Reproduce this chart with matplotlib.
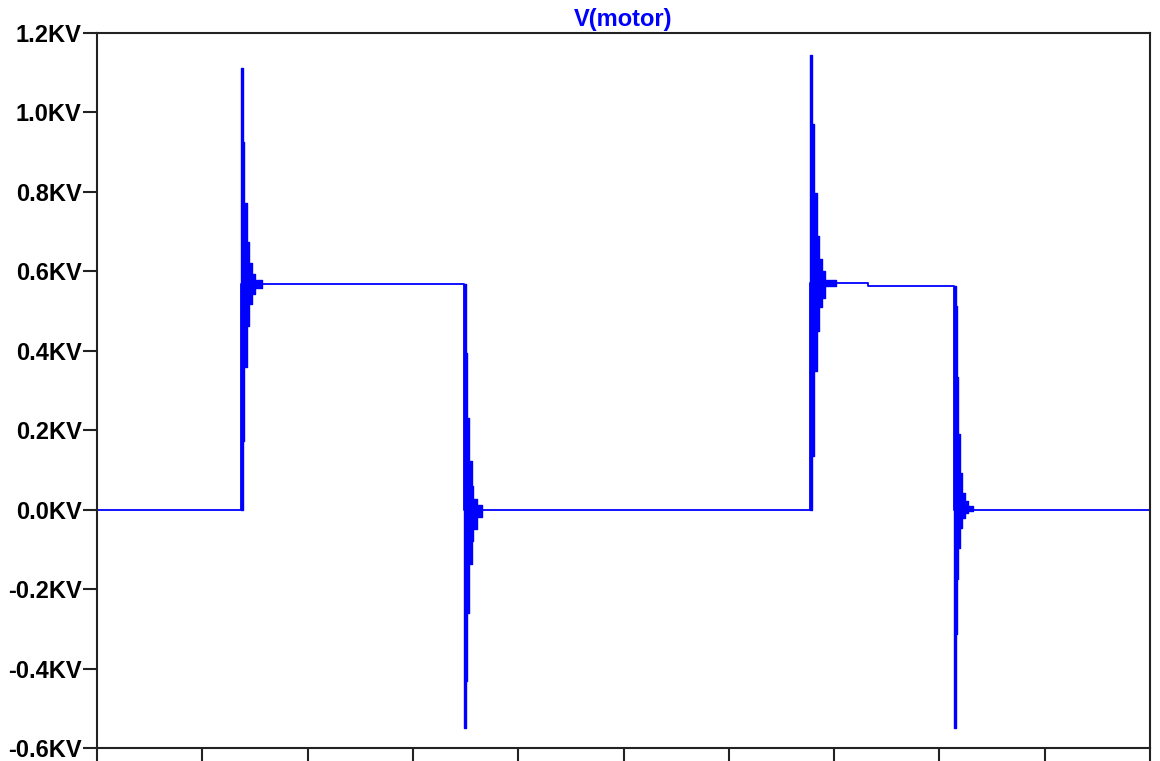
import numpy as np
import matplotlib
matplotlib.use("Agg")
import matplotlib.pyplot as plt
from matplotlib.ticker import FuncFormatter

# time in grid divisions (0..10), volts in KV, all read off the plot
# settled trace: edges and flat levels
t_trace = [0.0, 1.368, 1.368, 3.485, 3.485, 6.771, 6.771, 7.322, 7.322, 8.139, 8.139, 10.0]
v_trace = [0.0, 0.0, 0.567, 0.567, 0.0, 0.0, 0.570, 0.570, 0.562, 0.562, 0.0, 0.0]

# ringing after each edge, as drawn: max / min of each pixel-column block
t_ring1 = [1.368, 1.387, 1.396, 1.425, 1.443, 1.472, 1.500, 1.567]
hi_ring1 = [1.111, 0.925, 0.773, 0.673, 0.622, 0.594, 0.577, 0.567]
lo_ring1 = [0.000, 0.174, 0.358, 0.463, 0.519, 0.544, 0.557, 0.567]

t_ring2 = [3.485, 3.504, 3.514, 3.533, 3.561, 3.571, 3.609, 3.656]
hi_ring2 = [0.567, 0.395, 0.232, 0.123, 0.060, 0.028, 0.012, 0.0]
lo_ring2 = [-0.549, -0.431, -0.259, -0.136, -0.078, -0.048, -0.018, 0.0]

t_ring3 = [6.771, 6.790, 6.809, 6.838, 6.856, 6.885, 6.914, 7.018]
hi_ring3 = [1.144, 0.972, 0.798, 0.690, 0.632, 0.602, 0.578, 0.570]
lo_ring3 = [0.000, 0.136, 0.350, 0.451, 0.509, 0.534, 0.562, 0.570]

t_ring4 = [8.139, 8.153, 8.167, 8.177, 8.196, 8.215, 8.243, 8.272, 8.319]
hi_ring4 = [0.562, 0.514, 0.333, 0.191, 0.093, 0.043, 0.023, 0.010, 0.0]
lo_ring4 = [-0.549, -0.312, -0.174, -0.096, -0.045, -0.020, -0.008, -0.004, 0.0]

y_ticks = [-0.6, -0.4, -0.2, 0.0, 0.2, 0.4, 0.6, 0.8, 1.0, 1.2]
x_ticks = [0, 1, 2, 3, 4, 5, 6, 7, 8, 9, 10]

plt.rcParams['font.family'] = ['Liberation Sans', 'DejaVu Sans']

fig = plt.figure(figsize=(11.6, 7.61), dpi=100)
ax = fig.add_axes([0.0836, 0.0171, 0.9078, 0.9395])

blue = (0, 0, 1)
ax.plot(t_trace, v_trace, color=blue, lw=1.3)
for tr, hi, lo in [(t_ring1, hi_ring1, lo_ring1), (t_ring2, hi_ring2, lo_ring2),
                   (t_ring3, hi_ring3, lo_ring3), (t_ring4, hi_ring4, lo_ring4)]:
    ax.fill_between(tr, lo, hi, step='post', facecolor=blue, edgecolor=blue, lw=1.0)

ax.set_xlim(0, 10)
ax.set_ylim(-0.6, 1.2)
ax.set_xticks(x_ticks)
ax.set_xticklabels([])
ax.set_yticks(y_ticks)
ax.yaxis.set_major_formatter(FuncFormatter(lambda val, pos: f"{val:.1f}KV"))

for s in ax.spines.values():
    s.set_color('#222222')
    s.set_linewidth(1.5)
ax.tick_params(axis='both', direction='out', length=10, width=1.5, color='#222222')
ax.tick_params(axis='y', labelsize=17, pad=1)
for lbl in ax.get_yticklabels():
    lbl.set_fontweight('bold')

ax.set_title("V(motor)", color=blue, fontsize=17, fontweight='bold', pad=5)

fig.savefig("out.png", dpi=100)
